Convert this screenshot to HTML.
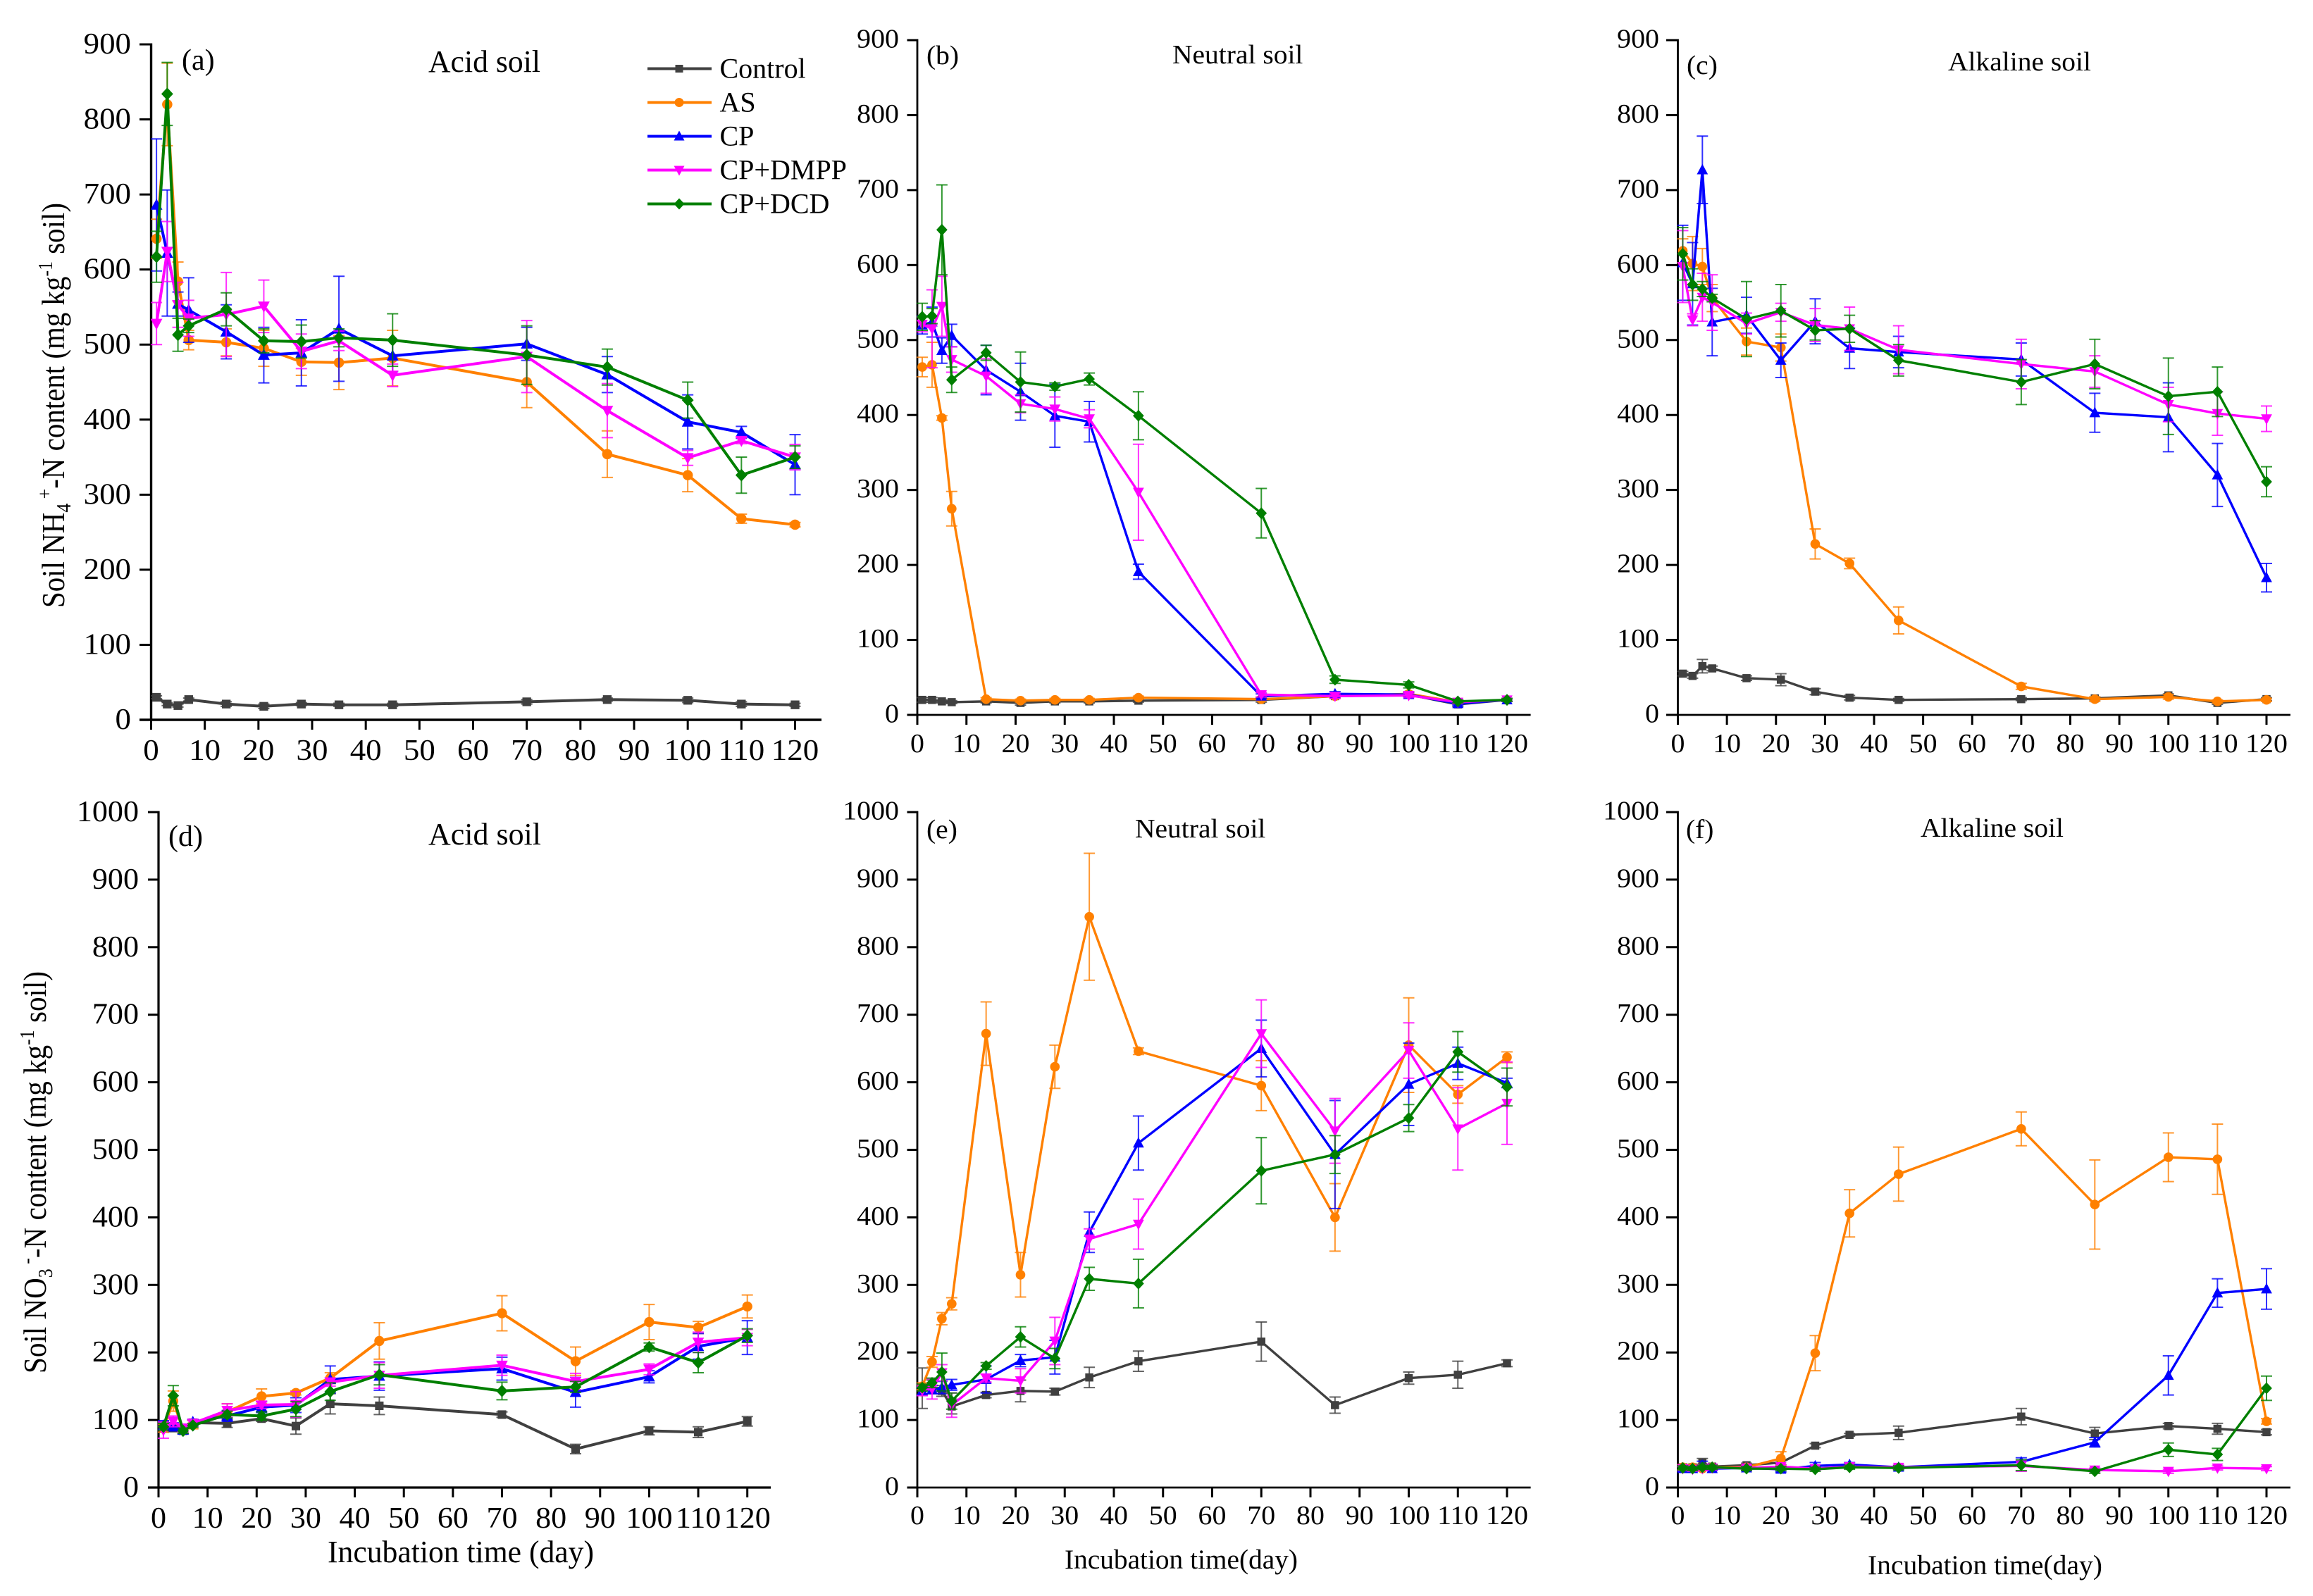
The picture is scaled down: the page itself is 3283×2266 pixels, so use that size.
<!DOCTYPE html>
<html lang="en">
<head>
<meta charset="utf-8">
<title>Soil ammonium and nitrate nitrogen over incubation time</title>
<style>
html,body{margin:0;padding:0;background:#fff;}
svg{display:block;}
text{font-family:"Liberation Serif",serif;fill:#000;}
</style>
</head>
<body>
<svg id="figure" xmlns="http://www.w3.org/2000/svg" width="3283" height="2266" viewBox="0 0 3283 2266">
  <rect x="0" y="0" width="3283" height="2266" fill="#fff"/>

  <text transform="translate(91,863) rotate(-90)" font-size="46" textLength="575" lengthAdjust="spacingAndGlyphs">Soil NH<tspan font-size="29" dy="9">4</tspan><tspan font-size="29" dy="-27"> +</tspan><tspan dy="18">-N content (mg kg</tspan><tspan font-size="29" dy="-17">-1</tspan><tspan dy="17"> soil)</tspan></text>
  <text transform="translate(65,1950) rotate(-90)" font-size="46" textLength="571" lengthAdjust="spacingAndGlyphs">Soil NO<tspan font-size="29" dy="9">3</tspan><tspan font-size="29" dy="-27"> -</tspan><tspan dy="18">-N content (mg kg</tspan><tspan font-size="29" dy="-17">-1</tspan><tspan dy="17"> soil)</tspan></text>

  <text x="258" y="99" font-size="42">(a)</text>
  <text x="608" y="102" font-size="44" textLength="159" lengthAdjust="spacingAndGlyphs">Acid soil</text>
  <text transform="translate(1315,91) scale(1.04,1)" font-size="38">(b)</text>
  <text transform="translate(1664,90) scale(1.04,1)" font-size="38">Neutral soil</text>
  <text transform="translate(2394,105) scale(1.04,1)" font-size="38">(c)</text>
  <text transform="translate(2765,100) scale(1.04,1)" font-size="38">Alkaline soil</text>
  <text x="239" y="1201" font-size="42">(d)</text>
  <text x="608" y="1199" font-size="44" textLength="160" lengthAdjust="spacingAndGlyphs">Acid soil</text>
  <text transform="translate(1315,1190) scale(1.04,1)" font-size="38">(e)</text>
  <text transform="translate(1611,1189) scale(1.04,1)" font-size="38">Neutral soil</text>
  <text transform="translate(2393,1190) scale(1.04,1)" font-size="38">(f)</text>
  <text transform="translate(2726,1188) scale(1.04,1)" font-size="38">Alkaline soil</text>

  <text x="465" y="2218" font-size="44" textLength="378" lengthAdjust="spacingAndGlyphs">Incubation time (day)</text>
  <text x="1511" y="2227" font-size="39" textLength="331" lengthAdjust="spacingAndGlyphs">Incubation time(day)</text>
  <text x="2651" y="2235" font-size="39" textLength="333" lengthAdjust="spacingAndGlyphs">Incubation time(day)</text>
</svg>

<script>
// Shared axes and categories
const days = [1,3,5,7,14,21,28,35,45,70,85,100,110,120];
const xTickLabels = [0,10,20,30,40,50,60,70,80,90,100,110,120];
const yTickLabels900 = [0,100,200,300,400,500,600,700,800,900];
const yTickLabels1000 = [0,100,200,300,400,500,600,700,800,900,1000];
const seriesNames = ["Control","AS","CP","CP+DMPP","CP+DCD"];

// Panel a: acid soil ammonium
const aControl = [30,21,19,27,21,18,21,20,20,24,27,26,21,20];
const aControlErr = [2,2,2,2,3,3,2,2,2,3,2,3,3,2];
const aAS = [641,820,584,506,503,495,477,476,482,450,354,326,268,260];
const aASErr = [26,55,26,13,18,24,18,36,37,34,31,22,6,3];
const aCP = [686,622,554,546,517,486,489,521,485,501,460,397,383,340];
const aCPErr = [88,84,16,43,36,37,44,70,21,22,24,36,8,40];
const aDMPP = [528,624,553,535,540,551,491,505,459,484,412,349,372,350];
const aDMPPErr = [28,40,30,24,56,35,23,13,15,48,36,10,4,17];
const aDCD = [617,834,513,525,547,505,504,509,506,486,470,426,326,350];
const aDCDErr = [34,42,22,9,22,16,22,12,35,39,24,24,24,15];

// Panel b: neutral soil ammonium
const bControl = [20,20,18,17,18,16,18,18,19,20,25,27,14,20];
const bControlErr = [3,3,2,2,2,3,2,2,2,3,2,3,3,2];
const bAS = [464,467,396,275,21,19,20,20,23,21,25,28,17,20];
const bASErr = [13,30,3,23,2,2,2,2,2,2,3,3,2,2];
const bCP = [520,524,486,506,460,431,399,391,191,25,28,27,15,20];
const bCPErr = [12,20,17,15,33,38,42,27,10,3,3,3,2,2];
const bDMPP = [521,515,545,474,452,415,408,395,297,27,25,26,17,20];
const bDMPPErr = [10,52,40,17,23,12,16,12,64,3,3,3,2,2];
const bDCD = [531,532,647,447,483,444,438,448,399,269,47,40,18,20];
const bDCDErr = [18,10,60,17,10,40,5,8,32,33,5,4,2,2];

// Panel c: alkaline soil ammonium
const cControl = [55,52,65,62,49,47,31,23,20,21,22,26,16,21];
const cControlErr = [3,3,9,3,3,8,4,3,2,2,2,2,2,2];
const cAS = [619,602,598,556,498,490,228,202,126,38,21,24,18,20];
const cASErr = [16,36,24,18,18,18,20,7,18,4,3,3,2,2];
const cCP = [603,575,727,524,533,473,525,489,484,474,403,397,320,183];
const cCPErr = [50,55,45,45,24,23,30,27,21,22,26,46,42,19];
const cDMPP = [598,527,557,550,522,537,520,515,487,468,458,414,402,395];
const cDMPPErr = [48,8,32,37,14,12,22,29,32,33,21,23,29,17];
const cDCD = [615,574,568,556,528,539,513,515,473,444,468,425,431,311];
const cDCDErr = [35,21,10,5,50,35,13,18,21,30,33,51,33,20];

// Panel d: acid soil nitrate
const dControl = [90,88,84,96,95,102,91,124,121,108,57,84,82,98];
const dControlErr = [8,5,4,4,6,4,12,15,13,4,7,6,8,7];
const dAS = [88,128,86,93,112,135,140,162,217,258,187,245,237,268];
const dASErr = [6,15,5,6,12,11,3,8,27,26,21,26,9,17];
const dCP = [92,90,85,97,106,119,122,160,165,176,141,164,209,222];
const dCPErr = [7,6,5,4,8,8,11,20,21,17,22,9,19,25];
const dDMPP = [85,98,88,95,114,122,123,156,166,181,157,175,215,222];
const dDMPPErr = [12,8,5,4,10,5,19,6,19,15,12,8,15,12];
const dDCD = [90,136,84,92,108,106,116,142,167,143,149,208,185,225];
const dDCDErr = [5,15,4,3,5,6,11,13,15,13,8,6,15,10];

// Panel e: neutral soil nitrate
const eControl = [147,149,143,120,137,143,142,163,187,216,122,162,167,184];
const eControlErr = [30,10,8,11,4,16,5,15,15,29,12,9,20,5];
const eAS = [150,186,250,272,672,315,623,845,646,595,400,655,582,637];
const eASErr = [5,8,9,9,47,33,32,94,5,37,50,70,13,8];
const eCP = [143,145,148,152,160,188,193,378,510,650,493,597,628,599];
const eCPErr = [6,6,9,8,20,9,25,30,40,42,80,61,24,7];
const eDMPP = [144,146,170,122,162,158,217,368,390,672,528,647,531,569];
const eDMPPErr = [8,15,12,18,6,18,35,15,37,50,48,41,61,61];
const eDCD = [148,155,171,128,180,223,191,309,302,469,493,547,645,593];
const eDCDErr = [5,7,28,12,5,15,15,17,36,49,28,20,30,28];

// Panel f: alkaline soil nitrate
const fControl = [30,30,37,31,33,37,62,78,81,105,80,91,87,82];
const fControlErr = [4,4,6,3,3,3,3,2,10,12,9,4,8,4];
const fAS = [30,30,28,30,30,43,199,406,464,531,419,489,486,98];
const fASErr = [4,4,3,3,3,10,26,35,40,25,66,36,52,4];
const fCP = [28,28,33,28,29,27,32,34,30,38,67,166,288,294];
const fCPErr = [4,4,6,3,3,4,5,3,3,6,7,29,21,30];
const fDMPP = [28,27,28,29,29,31,28,31,30,32,26,24,29,28];
const fDMPPErr = [3,3,3,3,3,3,2,2,3,8,3,3,3,3];
const fDCD = [29,28,30,30,28,28,27,30,29,33,24,56,49,147];
const fDCDErr = [3,3,3,3,3,3,3,3,3,8,3,10,9,18];

const SVGNS = "http://www.w3.org/2000/svg";
const svg = document.getElementById("figure");
const seriesStyles = [
  {key:"control", color:"#404040", marker:"square"},
  {key:"as", color:"#ff8000", marker:"circle"},
  {key:"cp", color:"#0000ff", marker:"triangle-up"},
  {key:"dmpp", color:"#ff00ff", marker:"triangle-down"},
  {key:"dcd", color:"#007f00", marker:"diamond"}
];
const panels = [
  {id:"a", x0:214.5, x120:1128.5, xEnd:1166, y0:1022, yTop:63, ticks:yTickLabels900, fs:42, sx:1.07, right:186, base:1079, left:198, lw:4, ax:3.4, yOff:13, ms:1.12,
   series:[[aControl,aControlErr],[aAS,aASErr],[aCP,aCPErr],[aDMPP,aDMPPErr],[aDCD,aDCDErr]]},
  {id:"b", x0:1302, x120:2139, xEnd:2172.6, y0:1015, yTop:57, ticks:yTickLabels900, fs:38, sx:1.05, right:1276, base:1068, left:1287.5, lw:3.4, ax:2.8, yOff:10.5, ms:1.05,
   series:[[bControl,bControlErr],[bAS,bASErr],[bCP,bCPErr],[bDMPP,bDMPPErr],[bDCD,bDCDErr]]},
  {id:"c", x0:2381.5, x120:3217, xEnd:3251, y0:1015, yTop:57, ticks:yTickLabels900, fs:38, sx:1.05, right:2355, base:1068, left:2365, lw:3.4, ax:2.8, yOff:10.5, ms:1.05,
   series:[[cControl,cControlErr],[cAS,cASErr],[cCP,cCPErr],[cDMPP,cDMPPErr],[cDCD,cDCDErr]]},
  {id:"d", x0:225, x120:1060.7, xEnd:1094, y0:2112, yTop:1153, ticks:yTickLabels1000, fs:42, sx:1.05, right:197, base:2169, left:210, lw:4, ax:3.2, yOff:13, ms:1.1,
   series:[[dControl,dControlErr],[dAS,dASErr],[dCP,dCPErr],[dDMPP,dDMPPErr],[dDCD,dDCDErr]]},
  {id:"e", x0:1302, x120:2139, xEnd:2172.6, y0:2112, yTop:1153, ticks:yTickLabels1000, fs:38, sx:1.05, right:1276, base:2164, left:1287.5, lw:3.4, ax:2.8, yOff:10.5, ms:1.05,
   series:[[eControl,eControlErr],[eAS,eASErr],[eCP,eCPErr],[eDMPP,eDMPPErr],[eDCD,eDCDErr]]},
  {id:"f", x0:2381.5, x120:3217, xEnd:3251, y0:2112, yTop:1153, ticks:yTickLabels1000, fs:38, sx:1.05, right:2355, base:2164, left:2365, lw:3.4, ax:2.8, yOff:10.5, ms:1.05,
   series:[[fControl,fControlErr],[fAS,fASErr],[fCP,fCPErr],[fDMPP,fDMPPErr],[fDCD,fDCDErr]]}
];

function addLine(parent, x1, y1, x2, y2, stroke, width, opacity, name) {
  const el = document.createElementNS(SVGNS, "line");
  
  
  el.setAttribute("x1", x1);
  el.setAttribute("y1", y1);
  el.setAttribute("x2", x2);
  el.setAttribute("y2", y2);
  el.setAttribute("stroke", stroke);
  el.setAttribute("stroke-width", width);
  if (opacity < 1) el.setAttribute("stroke-opacity", opacity);
  parent.appendChild(el);
  return el;
}

function addText(parent, str, x, y, fs, sx, anchor, name) {
  const el = document.createElementNS(SVGNS, "text");
  
  
  el.setAttribute("transform", "translate(" + x + "," + y + ") scale(" + sx + ",1)");
  el.setAttribute("font-size", fs);
  el.setAttribute("text-anchor", anchor);
  el.textContent = str;
  parent.appendChild(el);
  return el;
}

function addMarker(parent, kind, cx, cy, color, k, name) {
  let el;
  if (kind === "circle") {
    el = document.createElementNS(SVGNS, "circle");
    el.setAttribute("cx", cx);
    el.setAttribute("cy", cy);
    el.setAttribute("r", 6.5 * k);
  } else if (kind === "square") {
    el = document.createElementNS(SVGNS, "rect");
    el.setAttribute("x", cx - 5.5 * k);
    el.setAttribute("y", cy - 5.5 * k);
    el.setAttribute("width", 11 * k);
    el.setAttribute("height", 11 * k);
  } else {
    el = document.createElementNS(SVGNS, "polygon");
    let pts;
    if (kind === "triangle-up") pts = [[0,-8],[7.5,6],[-7.5,6]];
    else if (kind === "triangle-down") pts = [[0,8],[7.5,-6],[-7.5,-6]];
    else pts = [[0,-8],[7.5,0],[0,8],[-7.5,0]];
    el.setAttribute("points", pts.map(p => (cx + p[0] * k) + "," + (cy + p[1] * k)).join(" "));
  }
  
  
  el.setAttribute("fill", color);
  parent.appendChild(el);
  return el;
}

function drawPanel(p) {
  const yMax = p.ticks[p.ticks.length - 1];
  const xScale = v => p.x0 + (p.x120 - p.x0) * v / 120;
  const yScale = v => p.y0 - (p.y0 - p.yTop) * v / yMax;

  const group = document.createElementNS(SVGNS, "g");
  
  
  svg.appendChild(group);

  addLine(group, p.x0, p.yTop - 1.5, p.x0, p.y0 + 1.5, "#000", p.ax, 1, "y-axis-line-" + p.id);
  addLine(group, p.left, p.y0, p.xEnd, p.y0, "#000", p.ax, 1, "x-axis-line-" + p.id);

  p.ticks.forEach(function (t) {
    const y = yScale(t);
    addLine(group, p.left, y, p.x0, y, "#000", 3, 1, "y-tick-" + p.id + "-" + t);
    addText(group, String(t), p.right, y + p.yOff, p.fs, p.sx, "end", "y-tick-label-" + p.id + "-" + t);
  });
  xTickLabels.forEach(function (t) {
    const x = xScale(t);
    addLine(group, x, p.y0, x, p.y0 + 14, "#000", 3, 1, "x-tick-" + p.id + "-" + t);
    addText(group, String(t), x, p.base, p.fs, p.sx, "middle", "x-tick-label-" + p.id + "-" + t);
  });

  p.series.forEach(function (pair, s) {
    const values = pair[0];
    const errors = pair[1];
    const st = seriesStyles[s];
    const sg = document.createElementNS(SVGNS, "g");
    
    
    group.appendChild(sg);

    values.forEach(function (v, i) {
      const x = xScale(days[i]);
      const top = yScale(v + errors[i]);
      const bottom = yScale(v - errors[i]);
      addLine(sg, x, top, x, bottom, st.color, 2, 0.8, "error-bar-" + p.id + "-" + st.key + "-day-" + days[i]);
      addLine(sg, x - 8, top, x + 8, top, st.color, 2, 0.8, "error-cap-top-" + p.id + "-" + st.key + "-day-" + days[i]);
      addLine(sg, x - 8, bottom, x + 8, bottom, st.color, 2, 0.8, "error-cap-bottom-" + p.id + "-" + st.key + "-day-" + days[i]);
    });

    const path = document.createElementNS(SVGNS, "polyline");
    
    
    path.setAttribute("points", values.map((v, i) => xScale(days[i]) + "," + yScale(v)).join(" "));
    path.setAttribute("fill", "none");
    path.setAttribute("stroke", st.color);
    path.setAttribute("stroke-width", p.lw);
    path.setAttribute("stroke-linejoin", "round");
    sg.appendChild(path);

    values.forEach(function (v, i) {
      addMarker(sg, st.marker, xScale(days[i]), yScale(v), st.color, p.ms, "point-" + p.id + "-" + st.key + "-day-" + days[i]);
    });
  });
}

function drawLegend() {
  const legend = document.createElementNS(SVGNS, "g");
  
  
  svg.appendChild(legend);
  seriesNames.forEach(function (name, i) {
    const st = seriesStyles[i];
    const y = 97.5 + i * 48;
    addLine(legend, 919, y, 1010, y, st.color, 4, 1, "legend-line-" + st.key);
    addMarker(legend, st.marker, 964, y, st.color, 1, "legend-marker-" + st.key);
    addText(legend, name, 1021.5, y + 13, 40, 1, "start", "legend-entry-" + st.key);
  });
}

panels.forEach(drawPanel);
drawLegend();
</script>
</body>
</html>
